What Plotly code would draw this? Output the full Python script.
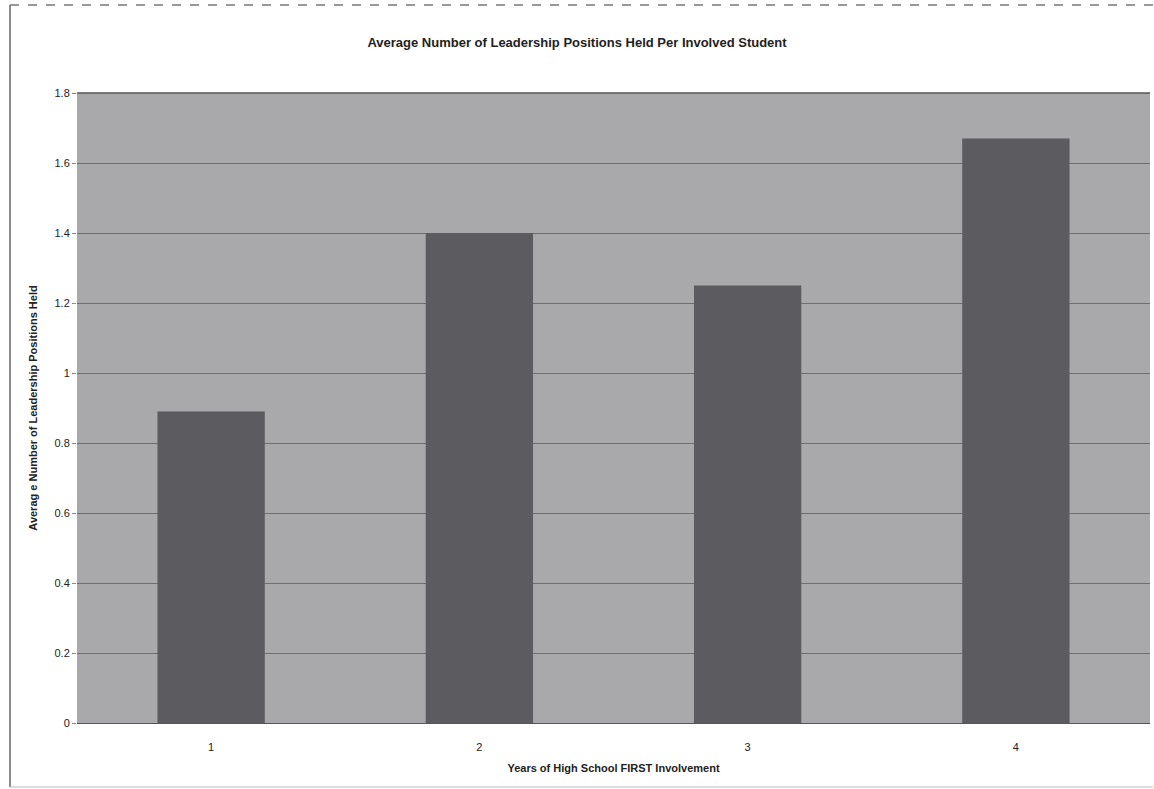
import plotly.graph_objects as go

# Years of high school in which students first became involved
years = ["1", "2", "3", "4"]
avg_positions = [0.89, 1.40, 1.25, 1.67]

y_ticks = [0, 0.2, 0.4, 0.6, 0.8, 1.0, 1.2, 1.4, 1.6, 1.8]
y_tick_text = ["0", "0.2", "0.4", "0.6", "0.8", "1", "1.2", "1.4", "1.6", "1.8"]

FONT = "Liberation Sans, Arial, sans-serif"

# plot area size in pixels, used to place the outer frame in paper units
PW, PH = 1073, 630

fig = go.Figure(
    go.Bar(
        x=years,
        y=avg_positions,
        marker=dict(color="#5b5b60", line=dict(width=0)),
        width=0.4,
    )
)

fig.update_layout(
    width=1154,
    height=789,
    margin=dict(l=77, r=4, t=93, b=66),
    paper_bgcolor="white",
    plot_bgcolor="#a9a9ab",
    showlegend=False,
    title=dict(
        text="<b>Average Number of Leadership Positions Held Per Involved Student</b>",
        x=0.5,
        xanchor="center",
        y=1 - 42 / 789,
        yanchor="middle",
        font=dict(family=FONT, size=13, color="#222222"),
    ),
    xaxis=dict(
        type="category",
        showgrid=False,
        showline=True,
        linecolor="#555555",
        linewidth=1,
        ticks="",
        ticklabelstandoff=14,
        tickfont=dict(family=FONT, size=11, color="#222222"),
        title=dict(
            text="<b>Years of High School FIRST Involvement</b>",
            font=dict(family=FONT, size=11, color="#222222"),
            standoff=12,
        ),
    ),
    yaxis=dict(
        range=[0, 1.8],
        tickvals=y_ticks,
        ticktext=y_tick_text,
        showgrid=True,
        gridcolor="#6e6e72",
        gridwidth=1,
        zeroline=False,
        showline=False,
        ticks="outside",
        ticklen=4,
        tickcolor="#888888",
        tickfont=dict(family=FONT, size=11, color="#222222"),
        title=dict(
            text="<b>Averag e Number of Leadership Positions Held</b>",
            font=dict(family=FONT, size=11, color="#222222"),
            standoff=14,
        ),
    ),
    shapes=[
        # outer frame of the chart
        dict(type="line", xref="paper", yref="paper",
             x0=-67 / PW, x1=-67 / PW, y0=-64 / PH, y1=1 + 88 / PH,
             line=dict(color="#666666", width=1.5)),
        dict(type="line", xref="paper", yref="paper",
             x0=-67 / PW, x1=1 + 3 / PW, y0=1 + 88 / PH, y1=1 + 88 / PH,
             line=dict(color="#777777", width=1.5, dash="dash")),
        dict(type="line", xref="paper", yref="paper",
             x0=-67 / PW, x1=1 + 3 / PW, y0=-64 / PH, y1=-64 / PH,
             line=dict(color="#bbbbbb", width=1)),
        # top border of the plot area
        dict(type="line", xref="paper", yref="paper",
             x0=0, x1=1, y0=1, y1=1,
             line=dict(color="#555555", width=1.5)),
    ],
)

fig.write_html("out.html")
